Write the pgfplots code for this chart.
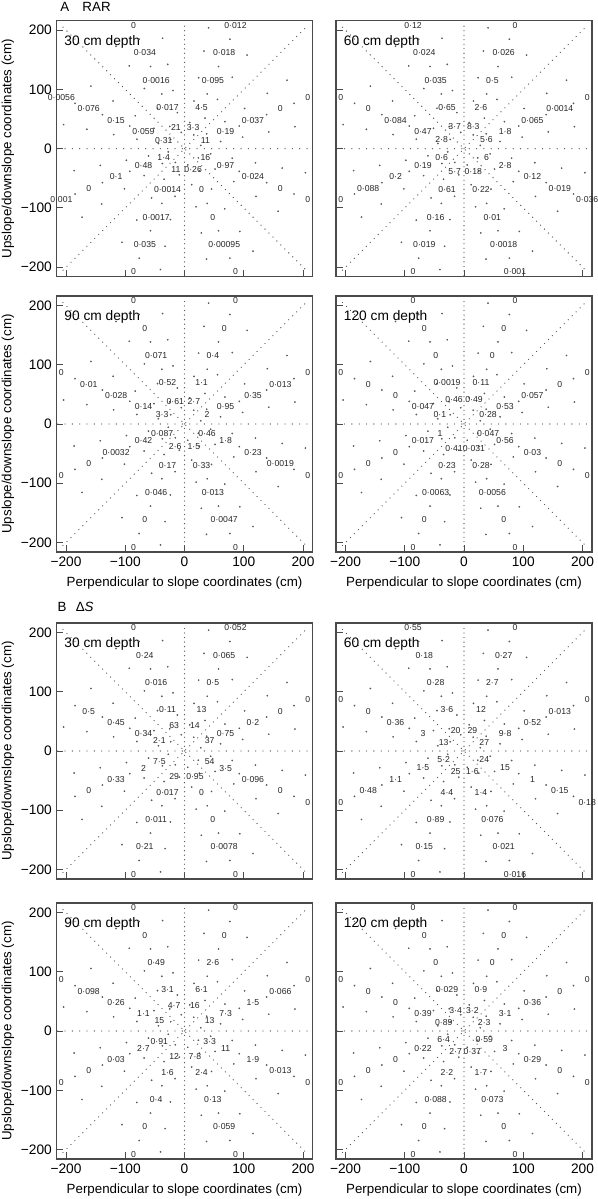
\documentclass[border=0pt]{standalone}
\usepackage{fontspec}
\setmainfont{Liberation Sans}
\usepackage{pgfplots}
\pgfplotsset{compat=1.18}
\definecolor{axgray}{HTML}{4A4A4A}
\definecolor{dotgray}{HTML}{5A5A5A}
\definecolor{labgray}{HTML}{262626}

\pgfplotsset{
 panel/.style={scale only axis, width=192pt, height=192pt,
   xmin=-216, xmax=216, ymin=-216, ymax=216,
   xtick={-200,-100,0,100,200}, ytick={-200,-100,0,100,200},
   tick pos=left, tick align=inside, major tick length=5pt,
   axis line style={axgray, line width=0.9pt},
   every tick/.style={axgray, line width=0.75pt},
   tick label style={font=\fontsize{10.3}{12}\selectfont},
   label style={font=\fontsize{10}{12}\selectfont},
   xticklabels={}, yticklabels={}, clip=false, anchor=north west},
 xlab/.style={xticklabels={−200,−100,0,100,200},
   xlabel={Perpendicular to slope coordinates (cm)},
   xlabel style={at={(axis description cs:0.5,-0.121)}, anchor=center}},
 ylab/.style={yticklabels={−200,−100,0,100,200},
   ylabel={Upslope/downslope coordinates (cm)},
   ylabel style={at={(axis description cs:-0.19,0.5)}, anchor=center}},
 labplot/.style={only marks, mark=none, data cs=polar, nodes near coords,
   point meta=explicit symbolic,
   nodes near coords style={anchor=center, font=\fontsize{6.5}{7}\selectfont, text=labgray, inner sep=0pt}},
}

\newcommand{\radlines}{%
 \addplot[dotgray, line width=1pt, line cap=round, dash pattern=on 0pt off 5.5pt] coordinates {(-214,0) (214,0)};
 \addplot[dotgray, line width=1pt, line cap=round, dash pattern=on 0pt off 3.4pt] coordinates {(0,-214) (0,214)};
 \addplot[dotgray, line width=1pt, line cap=round, dash pattern=on 0pt off 4.2pt] coordinates {(-205,-205) (205,205)};
 \addplot[dotgray, line width=1pt, line cap=round, dash pattern=on 0pt off 4.2pt] coordinates {(-205,205) (205,-205)};
}
\newcommand{\scatterdots}{%
 \addplot[only marks, mark=*, mark size=0.42pt, dotgray, data cs=polar] coordinates {
 (11.25,28) (11.25,62) (11.25,100) (11.25,145) (11.25,190)
 (56.25,28) (56.25,62) (56.25,100) (56.25,145) (56.25,190)
 (101.25,28) (101.25,62) (101.25,100) (101.25,145) (101.25,190)
 (146.25,28) (146.25,62) (146.25,100) (146.25,145) (146.25,190)
 (191.25,28) (191.25,62) (191.25,100) (191.25,145) (191.25,190)
 (236.25,28) (236.25,62) (236.25,100) (236.25,145) (236.25,190)
 (281.25,28) (281.25,62) (281.25,100) (281.25,145) (281.25,190)
 (326.25,28) (326.25,62) (326.25,100) (326.25,145) (326.25,190)
 (33.75,45) (33.75,82) (33.75,122) (33.75,168) (33.75,208)
 (78.75,45) (78.75,82) (78.75,122) (78.75,168) (78.75,208)
 (123.75,45) (123.75,82) (123.75,122) (123.75,168) (123.75,208)
 (168.75,45) (168.75,82) (168.75,122) (168.75,168) (168.75,208)
 (213.75,45) (213.75,82) (213.75,122) (213.75,168) (213.75,208)
 (258.75,45) (258.75,82) (258.75,122) (258.75,168) (258.75,208)
 (303.75,45) (303.75,82) (303.75,122) (303.75,168) (303.75,208)
 (348.75,45) (348.75,82) (348.75,122) (348.75,168) (348.75,208)
 (22.5,100) (22.5,150) (22.5,200) (67.5,100) (67.5,150) (67.5,200)
 (112.5,100) (112.5,150) (112.5,200) (157.5,100) (157.5,150) (157.5,200)
 (202.5,100) (202.5,150) (202.5,200) (247.5,100) (247.5,150) (247.5,200)
 (292.5,100) (292.5,150) (292.5,200) (337.5,100) (337.5,150) (337.5,200)
 };
}
\newcommand{\panel}[4]{%
 \begin{axis}[panel, at={#1}, #2]
  \radlines
  \scatterdots
  \addplot[labplot] coordinates {#4};
  \node[anchor=west, inner sep=0pt, font=\fontsize{10.3}{12}\selectfont] at (axis description cs:0.03,0.918) {#3};
 \end{axis}}

\begin{document}
\begin{tikzpicture}
\useasboundingbox (0,0) rectangle (447.75pt,-899.25pt);
\node[anchor=west, inner sep=0pt, font=\fontsize{10}{12}\selectfont] at (45pt,-5.5pt) {A\hspace{10pt}RAR};
\node[anchor=west, inner sep=0pt, font=\fontsize{10}{12}\selectfont] at (43pt,-455.5pt) {B\hspace{7pt}Δ\textit{S}};

% A1
\panel{(42.4pt,-15.5pt)}{ylab}{30 cm depth}{
(112.5,225)[0] (67.5,225)[0·012] (157.5,225)[0·0056] (22.5,225)[0] (202.5,225)[0·001] (337.5,225)[0] (247.5,225)[0] (292.5,225)[0]
(112.5,175)[0·034] (67.5,175)[0·018] (157.5,175)[0·076] (22.5,175)[0] (202.5,175)[0] (337.5,175)[0] (247.5,175)[0·035] (292.5,175)[0·00095]
(112.5,125)[0·0016] (67.5,125)[0·095] (157.5,125)[0·15] (22.5,125)[0·037] (202.5,125)[0·1] (337.5,125)[0·024] (247.5,125)[0·0017] (292.5,125)[0]
(112.5,75)[0·017] (67.5,75)[4·5] (157.5,75)[0·059] (22.5,75)[0·19] (202.5,75)[0·48] (337.5,75)[0·97] (247.5,75)[0·0014] (292.5,75)[0]
(112.5,38)[21] (67.5,38)[3·3] (157.5,38)[0·31] (22.5,38)[11] (202.5,38)[1·4] (337.5,38)[16] (247.5,38)[11] (292.5,38)[0·26]}

% A2
\panel{(252pt,-15.5pt)}{}{60 cm depth}{
(112.5,225)[0·12] (67.5,225)[0] (157.5,225)[0] (22.5,225)[0] (202.5,225)[0] (337.5,225)[0·036] (247.5,225)[0] (292.5,225)[0·001]
(112.5,175)[0·024] (67.5,175)[0·026] (157.5,175)[0] (22.5,175)[0·0014] (202.5,175)[0·088] (337.5,175)[0·019] (247.5,175)[0·019] (292.5,175)[0·0018]
(112.5,125)[0·035] (67.5,125)[0·5] (157.5,125)[0·084] (22.5,125)[0·065] (202.5,125)[0·2] (337.5,125)[0·12] (247.5,125)[0·16] (292.5,125)[0·01]
(112.5,75)[0·65] (67.5,75)[2·6] (157.5,75)[0·47] (22.5,75)[1·8] (202.5,75)[0·19] (337.5,75)[2·8] (247.5,75)[0·61] (292.5,75)[0·22]
(112.5,41)[3·7] (67.5,41)[8·3] (157.5,41)[2·8] (22.5,41)[5·6] (202.5,41)[0·6] (337.5,41)[6] (247.5,41)[5·7] (292.5,41)[0·18]}

% A3
\panel{(42.4pt,-222pt)}{xlab,ylab}{90 cm depth}{
(112.5,225)[0] (67.5,225)[0] (157.5,225)[0] (22.5,225)[0] (202.5,225)[0] (337.5,225)[0] (247.5,225)[0] (292.5,225)[0]
(112.5,175)[0] (67.5,175)[0] (157.5,175)[0·01] (22.5,175)[0·013] (202.5,175)[0] (337.5,175)[0·0019] (247.5,175)[0] (292.5,175)[0·0047]
(112.5,125)[0·071] (67.5,125)[0·4] (157.5,125)[0·028] (22.5,125)[0·35] (202.5,125)[0·0032] (337.5,125)[0·23] (247.5,125)[0·046] (292.5,125)[0·013]
(112.5,75)[0·52] (67.5,75)[1·1] (157.5,75)[0·14] (22.5,75)[0·95] (202.5,75)[0·42] (337.5,75)[1·8] (247.5,75)[0·17] (292.5,75)[0·33]
(112.5,41)[0·61] (67.5,41)[2·7] (157.5,41)[3·3] (22.5,41)[2] (202.5,41)[0·087] (337.5,41)[0·46] (247.5,41)[2·6] (292.5,41)[1·5]}

% A4
\panel{(252pt,-222pt)}{xlab}{120 cm depth}{
(112.5,225)[0] (67.5,225)[0] (157.5,225)[0] (22.5,225)[0] (202.5,225)[0] (337.5,225)[0] (247.5,225)[0] (292.5,225)[0]
(112.5,175)[0] (67.5,175)[0] (157.5,175)[0] (22.5,175)[0] (202.5,175)[0] (337.5,175)[0] (247.5,175)[0] (292.5,175)[0]
(112.5,125)[0] (67.5,125)[0] (157.5,125)[0] (22.5,125)[0·057] (202.5,125)[0] (337.5,125)[0·03] (247.5,125)[0·0063] (292.5,125)[0·0056]
(112.5,75)[0·0019] (67.5,75)[0·11] (157.5,75)[0·047] (22.5,75)[0·53] (202.5,75)[0·017] (337.5,75)[0·56] (247.5,75)[0·23] (292.5,75)[0·28]
(112.5,44)[0·46] (67.5,44)[0·49] (157.5,44)[0·1] (22.5,44)[0·28] (202.5,44)[1] (337.5,44)[0·047] (247.5,44)[0·41] (292.5,44)[0·031]}

% B1
\panel{(42.4pt,-467.25pt)}{ylab}{30 cm depth}{
(112.5,225)[0] (67.5,225)[0·052] (22.5,225)[0] (337.5,225)[0] (247.5,225)[0] (292.5,225)[0]
(112.5,175)[0·24] (67.5,175)[0·065] (157.5,175)[0·5] (22.5,175)[0] (202.5,175)[0] (337.5,175)[0] (247.5,175)[0·21] (292.5,175)[0·0078]
(112.5,125)[0·016] (67.5,125)[0·5] (157.5,125)[0·45] (22.5,125)[0·2] (202.5,125)[0·33] (337.5,125)[0·096] (247.5,125)[0·011] (292.5,125)[0]
(112.5,75)[0·11] (67.5,75)[13] (157.5,75)[0·34] (22.5,75)[0·75] (202.5,75)[2] (337.5,75)[3·5] (247.5,75)[0·017] (292.5,75)[0]
(112.5,46)[63] (67.5,46)[14] (157.5,46)[2·1] (22.5,46)[37] (202.5,46)[7·5] (337.5,46)[54] (247.5,46)[29] (292.5,46)[0·95]}

% B2
\panel{(252pt,-467.25pt)}{}{60 cm depth}{
(112.5,225)[0·55] (67.5,225)[0] (157.5,225)[0] (22.5,225)[0] (202.5,225)[0] (337.5,225)[0·18] (247.5,225)[0] (292.5,225)[0·016]
(112.5,175)[0·18] (67.5,175)[0·27] (157.5,175)[0] (22.5,175)[0·013] (202.5,175)[0·48] (337.5,175)[0·15] (247.5,175)[0·15] (292.5,175)[0·021]
(112.5,125)[0·28] (67.5,125)[2·7] (157.5,125)[0·36] (22.5,125)[0·52] (202.5,125)[1·1] (337.5,125)[1] (247.5,125)[0·89] (292.5,125)[0·076]
(112.5,75)[3·6] (67.5,75)[12] (157.5,75)[3] (22.5,75)[9·8] (202.5,75)[1·5] (337.5,75)[15] (247.5,75)[4·4] (292.5,75)[1·4]
(112.5,37)[20] (67.5,37)[29] (157.5,37)[13] (22.5,37)[27] (202.5,37)[5·2] (337.5,37)[24] (247.5,37)[25] (292.5,37)[1·6]}

% B3
\panel{(42.4pt,-677.25pt)}{xlab,ylab}{90 cm depth}{
(112.5,225)[0] (67.5,225)[0] (157.5,225)[0] (22.5,225)[0] (202.5,225)[0] (337.5,225)[0] (247.5,225)[0] (292.5,225)[0]
(112.5,175)[0] (67.5,175)[0] (157.5,175)[0·098] (22.5,175)[0·066] (202.5,175)[0] (337.5,175)[0·013] (247.5,175)[0] (292.5,175)[0·059]
(112.5,125)[0·49] (67.5,125)[2·6] (157.5,125)[0·26] (22.5,125)[1·5] (202.5,125)[0·03] (337.5,125)[1·9] (247.5,125)[0·4] (292.5,125)[0·13]
(112.5,75)[3·1] (67.5,75)[6·1] (157.5,75)[1·1] (22.5,75)[7·3] (202.5,75)[2·7] (337.5,75)[11] (247.5,75)[1·6] (292.5,75)[2·4]
(112.5,46)[4·7] (67.5,46)[16] (157.5,46)[15] (22.5,46)[13] (202.5,46)[0·91] (337.5,46)[3·3] (247.5,46)[12] (292.5,46)[7·8]}

% B4
\panel{(252pt,-677.25pt)}{xlab}{120 cm depth}{
(112.5,225)[0] (67.5,225)[0] (157.5,225)[0] (22.5,225)[0] (202.5,225)[0] (337.5,225)[0] (247.5,225)[0] (292.5,225)[0]
(112.5,175)[0] (67.5,175)[0] (157.5,175)[0] (22.5,175)[0] (202.5,175)[0] (337.5,175)[0] (247.5,175)[0] (292.5,175)[0]
(112.5,125)[0] (67.5,125)[0] (157.5,125)[0] (22.5,125)[0·36] (202.5,125)[0] (337.5,125)[0·29] (247.5,125)[0·088] (292.5,125)[0·073]
(112.5,75)[0·029] (67.5,75)[0·9] (157.5,75)[0·39] (22.5,75)[3·1] (202.5,75)[0·22] (337.5,75)[3] (247.5,75)[2·2] (292.5,75)[1·7]
(112.5,37)[3·4] (67.5,37)[3·2] (157.5,37)[0·89] (22.5,37)[2·3] (202.5,37)[6·4] (337.5,37)[0·59] (247.5,37)[2·7] (292.5,37)[0·37]}
\end{tikzpicture}
\end{document}
